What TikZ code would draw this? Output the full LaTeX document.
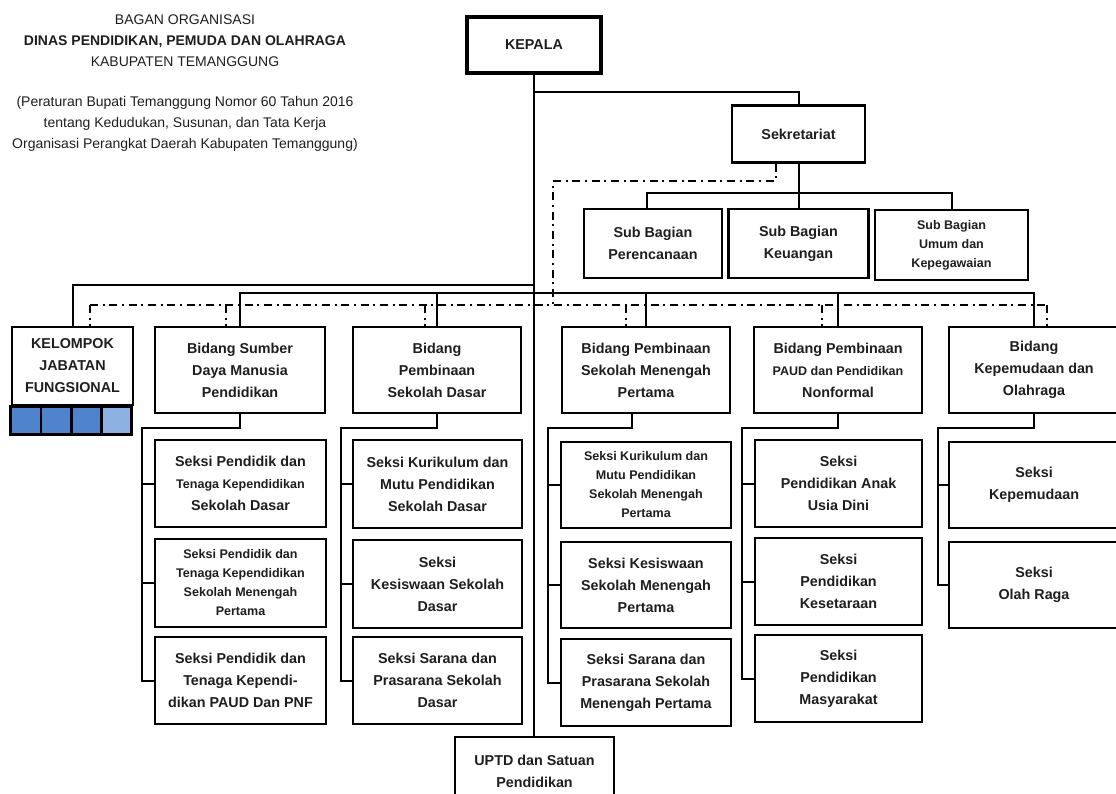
\documentclass[tikz,border=0pt]{standalone}
\usepackage{fontspec}
\setmainfont{Liberation Sans}
\usetikzlibrary{calc}
\definecolor{biru}{RGB}{79,131,204}
\definecolor{birumuda}{RGB}{141,178,226}
\definecolor{tinta}{RGB}{30,30,30}
\newcommand{\kecil}{\fontsize{9.4}{14.25}\selectfont}

\begin{document}
\begin{tikzpicture}[x=0.75pt,y=-0.75pt,
  kotak/.style={draw,line width=1.9pt,align=center,inner sep=2pt,text=tinta,
    font=\fontsize{10.75}{16.5}\selectfont\bfseries},
  hurufkecil/.style={font=\kecil\bfseries},
  ukuran/.style 2 args={minimum width=#1*0.75pt,minimum height=#2*0.75pt},
  garis/.style={line width=1.5pt},
  koordinasi/.style={line width=1.4pt,dash pattern=on 6pt off 3.5pt on 1.5pt off 3.5pt}]
\useasboundingbox (0,0) rectangle (1116,793);

% judul
\node[align=center,text=tinta,font=\fontsize{10.5}{15.75}\selectfont] (judul) at (185,41)
  {BAGAN ORGANISASI\\\textbf{DINAS PENDIDIKAN, PEMUDA DAN OLAHRAGA}\\KABUPATEN TEMANGGUNG};
\node[align=center,text=tinta,font=\fontsize{10.5}{15.75}\selectfont] (perbup) at (185,124)
  {(Peraturan Bupati Temanggung Nomor 60 Tahun 2016\\tentang Kedudukan, Susunan, dan Tata Kerja\\Organisasi Perangkat Daerah Kabupaten Temanggung)};

% pimpinan dan sekretariat
\node[kotak,ukuran={134}{56},line width=2.6pt] (kepala) at (534,45) {KEPALA};
\node[kotak,ukuran={133}{57}] (sekr) at (798.5,134) {Sekretariat};
\node[kotak,ukuran={138}{69}] (sbp) at (653,243.5) {Sub Bagian\\Perencanaan};
\node[kotak,ukuran={140}{69}] (sbk) at (798.5,243.5) {Sub Bagian\\Keuangan};
\node[kotak,hurufkecil,ukuran={153}{70}] (sbu) at (951.5,245) {Sub Bagian\\Umum dan\\Kepegawaian};

% bidang
\node[kotak,ukuran={121}{78}] (kjf) at (72.5,366) {KELOMPOK\\JABATAN\\FUNGSIONAL};
\node[kotak,ukuran={170}{86}] (bsdm) at (240,370) {Bidang Sumber\\Daya Manusia\\Pendidikan};
\node[kotak,ukuran={168}{86}] (bpsd) at (437,370) {Bidang\\Pembinaan\\Sekolah Dasar};
\node[kotak,ukuran={168}{86}] (bsmp) at (646,370) {Bidang Pembinaan\\Sekolah Menengah\\Pertama};
\node[kotak,ukuran={168}{86}] (bpaud) at (838,370) {Bidang Pembinaan\\{\kecil PAUD dan Pendidikan}\\Nonformal};
\node[kotak,ukuran={170}{86}] (bkep) at (1034,370) {Bidang\\Kepemudaan dan\\Olahraga};
\foreach \i/\c in {0/biru,1/biru,2/biru,3/birumuda}
  \draw[line width=1.9pt,fill=\c] ($(kjf.south west)+(\i*30.25,0)$) rectangle ++(30.25,28);

% seksi
\node[kotak,ukuran={171}{87}] (s11) at (240.5,483.5) {Seksi Pendidik dan\\{\kecil Tenaga Kependidikan}\\Sekolah Dasar};
\node[kotak,hurufkecil,ukuran={171}{88}] (s12) at (240.5,583) {Seksi Pendidik dan\\Tenaga Kependidikan\\Sekolah Menengah\\Pertama};
\node[kotak,ukuran={171}{87}] (s13) at (240.5,680.5) {Seksi Pendidik dan\\Tenaga Kependi-\\dikan PAUD Dan PNF};
\node[kotak,ukuran={169}{88}] (s21) at (437.5,484) {Seksi Kurikulum dan\\Mutu Pendidikan\\Sekolah Dasar};
\node[kotak,ukuran={169}{88}] (s22) at (437.5,584) {Seksi\\Kesiswaan Sekolah\\Dasar};
\node[kotak,ukuran={169}{87}] (s23) at (437.5,680.5) {Seksi Sarana dan\\Prasarana Sekolah\\Dasar};
\node[kotak,hurufkecil,ukuran={170}{86}] (s31) at (646,485) {Seksi Kurikulum dan\\Mutu Pendidikan\\Sekolah Menengah\\Pertama};
\node[kotak,ukuran={170}{86}] (s32) at (646,585) {Seksi Kesiswaan\\Sekolah Menengah\\Pertama};
\node[kotak,ukuran={170}{87}] (s33) at (646,682.5) {Seksi Sarana dan\\Prasarana Sekolah\\Menengah Pertama};
\node[kotak,ukuran={167}{87}] (s41) at (838.5,483.5) {Seksi\\Pendidikan Anak\\Usia Dini};
\node[kotak,ukuran={167}{87}] (s42) at (838.5,581.5) {Seksi\\Pendidikan\\Kesetaraan};
\node[kotak,ukuran={167}{87}] (s43) at (838.5,678.5) {Seksi\\Pendidikan\\Masyarakat};
\node[kotak,ukuran={170}{86}] (s51) at (1034,485) {Seksi\\Kepemudaan};
\node[kotak,ukuran={170}{86}] (s52) at (1034,585) {Seksi\\Olah Raga};
\node[kotak,ukuran={159}{68}] (uptd) at (534.5,771) {UPTD dan Satuan\\Pendidikan};

% garis komando
\coordinate (j1) at (534,92);
\coordinate (sbar) at (798.5,193);
\coordinate (j2) at (534,285);
\coordinate (bbar) at (534,293);
\draw[garis] (kepala.south) -- (kepala.south |- uptd.north);
\draw[garis] (j1) -| (sekr.north);
\draw[garis] (sekr.south) -- (sbk.north);
\draw[garis] ([xshift=-4.5pt]sbp.north) |- (sbar) -| (sbu.north);
\draw[garis] (kjf.north) |- (j2);
\draw[garis] (bsdm.north) |- (bbar) -| (bkep.north);
\foreach \n in {bpsd,bsmp,bpaud}
  \draw[garis] (\n.north) -- (\n.north |- bbar);

\coordinate (v1) at (142,428);
\coordinate (v2) at (341,428);
\coordinate (v3) at (548,428);
\coordinate (v4) at (742,428);
\coordinate (v5) at (938,428);
\draw[garis] (bsdm.south) |- (v1) |- (s13.west);
\draw[garis] (bpsd.south) |- (v2) |- (s23.west);
\draw[garis] ([xshift=-10.5pt]bsmp.south) |- (v3) |- (s33.west);
\draw[garis] (bpaud.south) |- (v4) |- (s43.west);
\draw[garis] (bkep.south) |- (v5) |- (s52.west);
\foreach \v/\n in {v1/s11,v1/s12,v2/s21,v2/s22,v3/s31,v3/s32,v4/s41,v4/s42,v5/s51}
  \draw[garis] (\v |- \n.west) -- (\n.west);

% garis koordinasi
\coordinate (dd) at (553,181);
\coordinate (dkiri) at (90,305);
\coordinate (dkanan) at (1047,305);
\draw[koordinasi] ([xshift=-17pt]sekr.south) |- (dd) -- (dd |- dkiri);
\draw[koordinasi] (dkiri) -- (dkanan);
\foreach \n/\x in {kjf/90,bsdm/226,bpsd/425,bsmp/626,bpaud/822,bkep/1047}
  \draw[koordinasi] (\x,305) -- (\x,305 |- \n.north);
\end{tikzpicture}
\end{document}
